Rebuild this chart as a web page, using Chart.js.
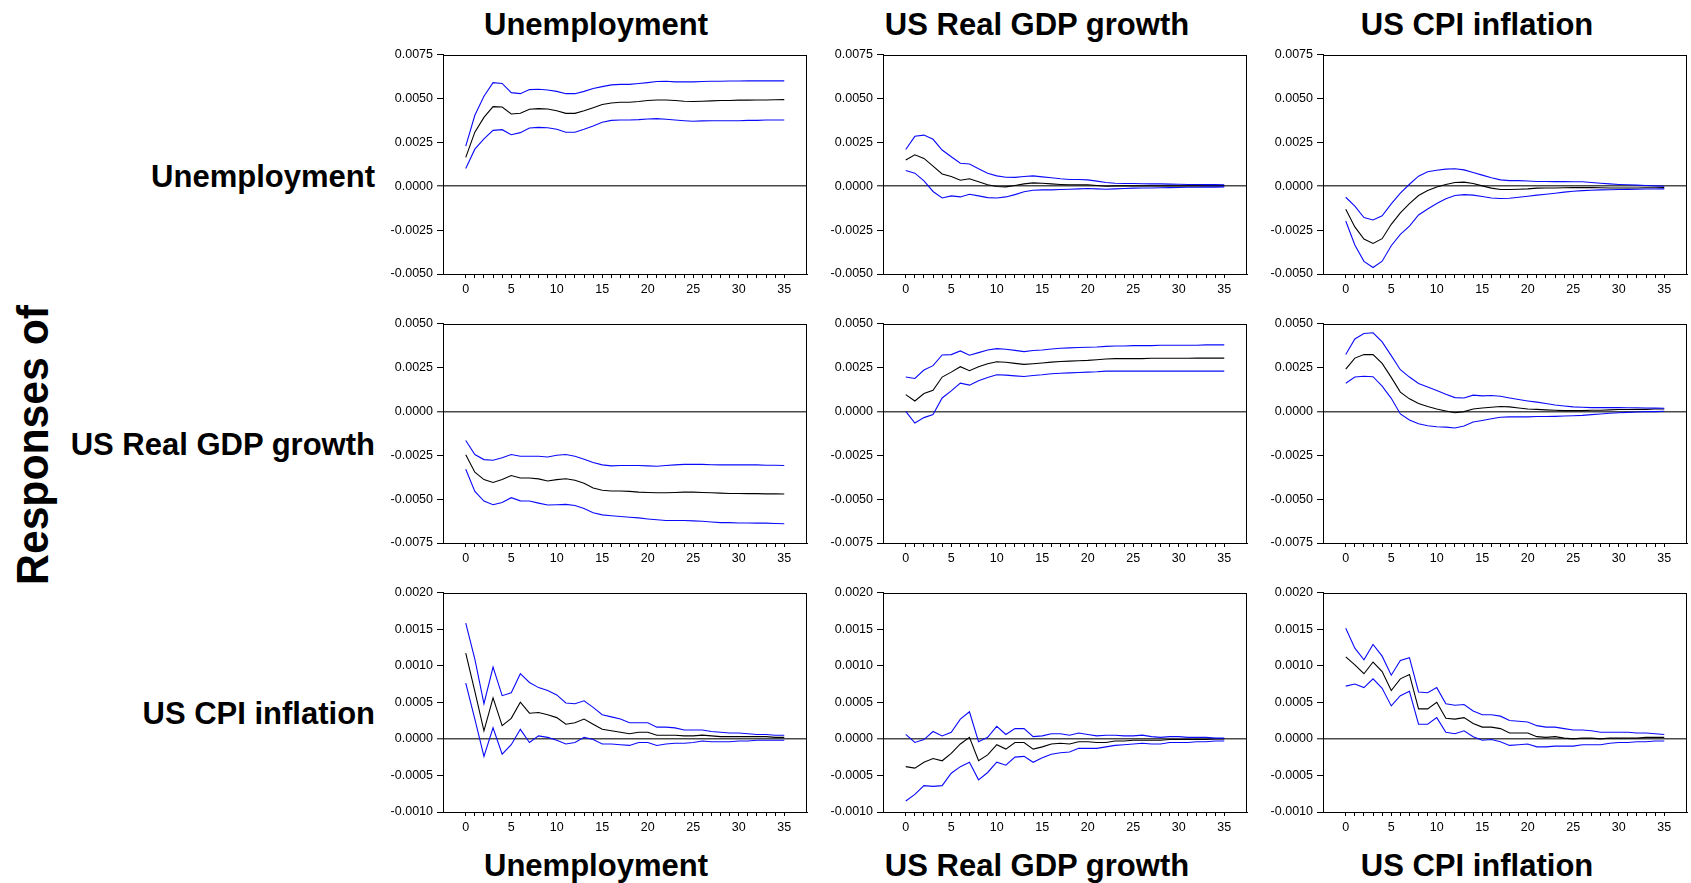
<!DOCTYPE html>
<html>
<head>
<meta charset="utf-8">
<script src="https://cdn.jsdelivr.net/npm/chart.js@4.4.1/dist/chart.umd.min.js"></script>
<style>
  html, body { margin:0; padding:0; background:#fff; }
  body { width:1691px; height:883px; position:relative; overflow:hidden; font-family:"Liberation Sans", Arial, sans-serif; }
  canvas { position:absolute; }
  .lbl { position:absolute; font-weight:bold; font-size:31px; line-height:31px; color:#000; white-space:nowrap; }
  .ctr { transform:translateX(-50%); }
  .row { left:0; width:375px; text-align:right; }
  #resp { position:absolute; left:33px; top:445px; font-weight:bold; font-size:44px; line-height:44px; white-space:nowrap;
          transform:translate(-50%,-50%) rotate(-90deg) scaleX(0.97); }
</style>
</head>
<body>
<div class="lbl ctr" style="left:596px; top:9px;">Unemployment</div>
<div class="lbl ctr" style="left:1037px; top:9px;">US Real GDP growth</div>
<div class="lbl ctr" style="left:1477px; top:9px;">US CPI inflation</div>
<div class="lbl row" style="top:161px;">Unemployment</div>
<div class="lbl row" style="top:429px;">US Real GDP growth</div>
<div class="lbl row" style="top:698px;">US CPI inflation</div>
<div class="lbl ctr" style="left:596px; top:850px;">Unemployment</div>
<div class="lbl ctr" style="left:1037px; top:850px;">US Real GDP growth</div>
<div class="lbl ctr" style="left:1477px; top:850px;">US CPI inflation</div>
<div id="resp">Responses of</div>

<script>
// ---- categories / tick labels ----
const horizons = [0,1,2,3,4,5,6,7,8,9,10,11,12,13,14,15,16,17,18,19,20,21,22,23,24,25,26,27,28,29,30,31,32,33,34,35];
const xTickLabels = [0,5,10,15,20,25,30,35];
const variables = ["Unemployment","US Real GDP growth","US CPI inflation"];
const yTicksRow1 = [-0.005,-0.0025,0,0.0025,0.005,0.0075];
const yTicksRow2 = [-0.0075,-0.005,-0.0025,0,0.0025,0.005];
const yTicksRow3 = [-0.001,-0.0005,0,0.0005,0.001,0.0015,0.002];

// ---- Responses of Unemployment ----
const unemp_unemp_hi  = [0.00228,0.00404,0.00512,0.0059,0.00585,0.00533,0.00527,0.0055,0.00552,0.00548,0.0054,0.00527,0.00527,0.0054,0.00556,0.00567,0.00577,0.0058,0.0058,0.00585,0.0059,0.00596,0.00598,0.00594,0.00594,0.00594,0.00596,0.00598,0.00598,0.00599,0.00599,0.006,0.006,0.006,0.006,0.006];
const unemp_unemp_mid = [0.00164,0.00308,0.00392,0.00453,0.00451,0.00411,0.00415,0.00438,0.00442,0.0044,0.0043,0.00415,0.00415,0.0043,0.00447,0.00465,0.00474,0.00478,0.00478,0.00482,0.00488,0.00491,0.00491,0.00488,0.00484,0.00482,0.00484,0.00486,0.00488,0.00488,0.0049,0.0049,0.00491,0.00491,0.00492,0.00493];
const unemp_unemp_lo  = [0.00101,0.00211,0.0027,0.00318,0.00322,0.00293,0.00305,0.00331,0.00335,0.00333,0.00324,0.00307,0.00307,0.00324,0.00343,0.00364,0.00375,0.00377,0.00377,0.00379,0.00383,0.00385,0.00381,0.00377,0.00373,0.0037,0.00372,0.00373,0.00373,0.00373,0.00373,0.00375,0.00375,0.00377,0.00377,0.00377];

const unemp_gdp_hi  = [0.00209,0.00284,0.00291,0.00267,0.00206,0.00168,0.00131,0.00126,0.00099,0.00074,0.00059,0.00051,0.0005,0.00055,0.00059,0.00053,0.00048,0.00042,0.00038,0.00038,0.00036,0.00029,0.00021,0.00017,0.00015,0.00015,0.00014,0.00013,0.00013,0.00012,0.00011,0.0001,0.0001,0.00009,0.00009,0.00008];
const unemp_gdp_mid = [0.00149,0.00179,0.00158,0.00114,0.0007,0.00055,0.00034,0.00042,0.00025,0.00008,-0.00002,-0.00004,0.00004,0.00013,0.00019,0.00017,0.00013,0.0001,0.00008,0.00008,0.00008,0.00004,0.0,0.00002,0.00002,0.00002,0.00002,0.00002,0.00002,0.00002,0.00002,0.00002,0.00002,0.00002,0.00002,0.00002];
const unemp_gdp_lo  = [0.00089,0.00074,0.0003,-0.0003,-0.00067,-0.00055,-0.00061,-0.00046,-0.00055,-0.00065,-0.00067,-0.00061,-0.00048,-0.00032,-0.00023,-0.00021,-0.00021,-0.00019,-0.00017,-0.00015,-0.00013,-0.00015,-0.00017,-0.00015,-0.00013,-0.00011,-0.0001,-0.0001,-0.00009,-0.00008,-0.00007,-0.00006,-0.00006,-0.00005,-0.00005,-0.00004];

const unemp_cpi_hi  = [-0.00063,-0.00114,-0.00179,-0.00192,-0.00169,-0.00101,-0.0004,0.00011,0.00057,0.00082,0.00091,0.00097,0.00099,0.00093,0.00078,0.00063,0.00048,0.00036,0.00032,0.00032,0.0003,0.00027,0.00027,0.00026,0.00026,0.00025,0.00025,0.00021,0.00017,0.00013,0.0001,0.00008,0.00006,0.00004,0.00002,0.0];
const unemp_cpi_mid = [-0.00131,-0.00232,-0.00301,-0.00326,-0.00299,-0.00217,-0.00152,-0.00099,-0.00053,-0.00025,-0.00004,0.0001,0.00021,0.00023,0.00015,0.00002,-0.00011,-0.00019,-0.00019,-0.00017,-0.00015,-0.00011,-0.0001,-0.0001,-0.00009,-0.00008,-0.00008,-0.00008,-0.00009,-0.0001,-0.0001,-0.0001,-0.0001,-0.00009,-0.00009,-0.00008];
const unemp_cpi_lo  = [-0.00198,-0.00335,-0.00428,-0.00463,-0.00427,-0.00339,-0.00274,-0.00227,-0.00164,-0.0013,-0.00099,-0.00072,-0.00053,-0.00048,-0.00051,-0.00059,-0.00067,-0.0007,-0.00069,-0.00063,-0.00057,-0.00051,-0.00046,-0.0004,-0.00034,-0.00029,-0.00025,-0.00023,-0.00021,-0.0002,-0.00019,-0.00018,-0.00017,-0.00016,-0.00016,-0.00015];

// ---- Responses of US Real GDP growth ----
const gdp_unemp_hi  = [-0.00166,-0.00246,-0.00275,-0.00279,-0.00265,-0.00246,-0.00256,-0.00256,-0.00256,-0.0026,-0.0025,-0.00246,-0.00256,-0.00273,-0.00292,-0.00305,-0.00311,-0.00309,-0.00309,-0.00309,-0.00311,-0.00313,-0.00309,-0.00305,-0.00302,-0.00302,-0.00302,-0.00304,-0.00305,-0.00305,-0.00304,-0.00305,-0.00305,-0.00307,-0.00307,-0.00309];
const gdp_unemp_mid = [-0.00248,-0.00347,-0.00389,-0.00405,-0.00389,-0.00366,-0.0038,-0.0038,-0.00385,-0.00397,-0.00389,-0.00384,-0.00393,-0.0041,-0.00437,-0.0045,-0.00454,-0.00454,-0.00456,-0.0046,-0.00462,-0.00464,-0.00464,-0.00462,-0.0046,-0.0046,-0.00462,-0.00464,-0.00466,-0.00468,-0.00468,-0.00469,-0.00469,-0.0047,-0.0047,-0.00471];
const gdp_unemp_lo  = [-0.0033,-0.00456,-0.00511,-0.00532,-0.00519,-0.00492,-0.0051,-0.00511,-0.00523,-0.00534,-0.00532,-0.0053,-0.00536,-0.00553,-0.00578,-0.0059,-0.00595,-0.00599,-0.00603,-0.00607,-0.00613,-0.00618,-0.00622,-0.00622,-0.00622,-0.00624,-0.00626,-0.0063,-0.00634,-0.00634,-0.00636,-0.00636,-0.00637,-0.00637,-0.00639,-0.0064];

const gdp_gdp_hi  = [0.00195,0.00187,0.00235,0.0026,0.00321,0.00323,0.00344,0.00319,0.00334,0.00349,0.00357,0.00353,0.00347,0.0034,0.00346,0.00349,0.00355,0.00359,0.00361,0.00363,0.00365,0.00366,0.0037,0.00372,0.00372,0.00374,0.00374,0.00374,0.00376,0.00376,0.00376,0.00376,0.00376,0.00378,0.00378,0.00378];
const gdp_gdp_mid = [0.00095,0.00059,0.00101,0.0012,0.00195,0.00223,0.00254,0.00231,0.00254,0.00271,0.00282,0.00279,0.00273,0.00267,0.00271,0.00275,0.0028,0.00284,0.00286,0.00288,0.0029,0.00294,0.00298,0.003,0.003,0.003,0.003,0.00302,0.00302,0.00302,0.00302,0.00302,0.00303,0.00303,0.00303,0.00303];
const gdp_gdp_lo  = [0.0,-0.00067,-0.00036,-0.00019,0.00076,0.00116,0.0016,0.00149,0.00174,0.00193,0.00208,0.00206,0.00202,0.00198,0.00204,0.00208,0.00214,0.00217,0.00219,0.00221,0.00223,0.00225,0.00229,0.00229,0.00229,0.00229,0.00229,0.00229,0.00229,0.00229,0.00229,0.00229,0.00229,0.00229,0.00229,0.00229];

const gdp_cpi_hi  = [0.00323,0.00412,0.00443,0.00447,0.00395,0.00317,0.00237,0.00195,0.00158,0.00139,0.00118,0.00097,0.00078,0.00076,0.00092,0.00088,0.0009,0.00086,0.00076,0.00067,0.00059,0.00052,0.00044,0.00036,0.0003,0.00025,0.00023,0.00021,0.00021,0.00021,0.00021,0.0002,0.0002,0.00019,0.00018,0.00017];
const gdp_cpi_mid = [0.0024,0.00303,0.00323,0.00323,0.00273,0.00193,0.00109,0.00071,0.00044,0.00027,0.00013,0.00002,-0.00008,-0.00002,0.00013,0.00019,0.00023,0.00027,0.00025,0.00019,0.00013,0.00011,0.00008,0.00006,0.00004,0.00004,0.00004,0.00006,0.00006,0.00008,0.0001,0.0001,0.00011,0.00011,0.00013,0.00013];
const gdp_cpi_lo  = [0.0016,0.00195,0.002,0.00197,0.00143,0.00074,-0.00015,-0.0005,-0.00071,-0.00082,-0.00088,-0.0009,-0.00095,-0.00084,-0.00061,-0.00052,-0.00042,-0.00034,-0.00032,-0.00032,-0.00032,-0.0003,-0.0003,-0.00029,-0.00027,-0.00025,-0.00023,-0.00019,-0.00015,-0.00011,-0.00008,-0.00006,-0.00004,-0.00002,-0.00002,0.0];

// ---- Responses of US CPI inflation ----
const cpi_unemp_hi  = [0.00158,0.00109,0.00048,0.00098,0.00059,0.00063,0.00089,0.00077,0.0007,0.00066,0.0006,0.00049,0.00048,0.00052,0.00043,0.00033,0.0003,0.00027,0.00022,0.00022,0.00022,0.00016,0.00016,0.00015,0.00012,0.00012,0.00012,0.0001,0.00009,0.00008,0.00008,0.00007,0.00006,0.00006,0.00005,0.00005];
const cpi_unemp_mid = [0.00117,0.00065,0.00011,0.00056,0.00018,0.00028,0.0005,0.00035,0.00036,0.00033,0.00029,0.0002,0.00022,0.00027,0.0002,0.00013,0.00011,0.00009,0.00007,0.00009,0.00009,0.00005,0.00005,0.00005,0.00004,0.00004,0.00005,0.00004,0.00003,0.00003,0.00003,0.00003,0.00003,0.00003,0.00002,0.00002];
const cpi_unemp_lo  = [0.00076,0.00027,-0.00024,0.00015,-0.00021,-0.00008,0.00013,-0.00005,0.00004,0.00002,-0.00002,-0.00007,-0.00005,0.00002,-0.00001,-0.00007,-0.00007,-0.00008,-0.00009,-0.00005,-0.00005,-0.00009,-0.00007,-0.00006,-0.00006,-0.00005,-0.00003,-0.00004,-0.00004,-0.00004,-0.00003,-0.00003,-0.00002,-0.00002,-0.00002,-0.00002];

const cpi_gdp_hi  = [0.00006,-0.00005,-0.00001,0.0001,0.00004,0.00009,0.00027,0.00037,-0.00004,0.00002,0.00017,0.00006,0.00014,0.00014,0.00003,0.00004,0.00007,0.00007,0.00005,0.00008,0.00006,0.00004,0.00005,0.00005,0.00004,0.00004,0.00005,0.00003,0.00002,0.00003,0.00003,0.00002,0.00002,0.00002,0.00001,0.00001];
const cpi_gdp_mid = [-0.00038,-0.0004,-0.00032,-0.00027,-0.0003,-0.0002,-0.00007,0.00002,-0.0003,-0.00022,-0.00008,-0.00014,-0.00005,-0.00005,-0.00014,-0.00011,-0.00007,-0.00006,-0.00007,-0.00004,-0.00004,-0.00005,-0.00005,-0.00003,-0.00003,-0.00002,-0.00002,-0.00002,-0.00002,-0.00001,-0.00001,-0.00001,-0.00001,-0.00001,0.0,0.0];
const cpi_gdp_lo  = [-0.00085,-0.00076,-0.00064,-0.00065,-0.00064,-0.00047,-0.00038,-0.00032,-0.00056,-0.00046,-0.00032,-0.00036,-0.00025,-0.00024,-0.00032,-0.00026,-0.00021,-0.00019,-0.00018,-0.00013,-0.00013,-0.00013,-0.00011,-0.00009,-0.00008,-0.00007,-0.00006,-0.00007,-0.00007,-0.00005,-0.00005,-0.00005,-0.00004,-0.00004,-0.00003,-0.00003];

const cpi_cpi_hi  = [0.00151,0.00124,0.00108,0.00129,0.00113,0.00087,0.00107,0.00111,0.00064,0.00063,0.0007,0.00048,0.00046,0.00047,0.00038,0.00033,0.00033,0.00031,0.00025,0.00024,0.00023,0.00018,0.00016,0.00016,0.00014,0.00012,0.00012,0.00011,0.00009,0.00009,0.00009,0.00009,0.00008,0.00008,0.00007,0.00006];
const cpi_cpi_mid = [0.00112,0.00101,0.00089,0.00105,0.00092,0.00066,0.00082,0.00088,0.00041,0.00041,0.0005,0.00028,0.00027,0.00029,0.00021,0.00016,0.00016,0.00014,0.00008,0.00008,0.00008,0.00003,0.00002,0.00003,0.00001,0.0,0.00001,0.00001,0.0,0.00001,0.00001,0.00001,0.00001,0.00002,0.00002,0.00002];
const cpi_cpi_lo  = [0.00072,0.00075,0.0007,0.00082,0.00069,0.00045,0.00059,0.00065,0.0002,0.0002,0.00029,0.00009,0.00007,0.00011,0.00003,-0.00002,-0.00001,-0.00004,-0.00009,-0.00008,-0.00007,-0.00011,-0.00011,-0.0001,-0.0001,-0.0001,-0.00008,-0.00008,-0.00008,-0.00006,-0.00005,-0.00005,-0.00004,-0.00004,-0.00003,-0.00003];

// ---- layout ----
const colLeft = [443, 883, 1323];
const rowTop = [54, 323, 592];
const PLOT_W = 364, PLOT_H = 219;
const Y_AXIS_W = 60, X_AXIS_H = 30, PAD_T = 8, PAD_R = 8;

const panels = [
  [ [unemp_unemp_lo, unemp_unemp_mid, unemp_unemp_hi], [unemp_gdp_lo, unemp_gdp_mid, unemp_gdp_hi], [unemp_cpi_lo, unemp_cpi_mid, unemp_cpi_hi] ],
  [ [gdp_unemp_lo, gdp_unemp_mid, gdp_unemp_hi], [gdp_gdp_lo, gdp_gdp_mid, gdp_gdp_hi], [gdp_cpi_lo, gdp_cpi_mid, gdp_cpi_hi] ],
  [ [cpi_unemp_lo, cpi_unemp_mid, cpi_unemp_hi], [cpi_gdp_lo, cpi_gdp_mid, cpi_gdp_hi], [cpi_cpi_lo, cpi_cpi_mid, cpi_cpi_hi] ]
];
const rowTicks = [yTicksRow1, yTicksRow2, yTicksRow3];

Chart.defaults.font.family = '"Liberation Sans", Arial, sans-serif';
Chart.defaults.color = '#000';

const boxPlugin = {
  id: 'box',
  afterDraw(chart) {
    const a = chart.chartArea, c = chart.ctx;
    c.save();
    c.strokeStyle = '#000';
    c.lineWidth = 1;
    c.strokeRect(Math.round(a.left) + 0.5, Math.round(a.top) + 0.5, Math.round(a.right - a.left) - 1, Math.round(a.bottom - a.top) - 1);
    c.restore();
  }
};

const BLUE = 'rgb(10,10,250)';
function pts(arr) { return horizons.map((h, i) => ({ x: h, y: arr[i] })); }

function makeChart(r, c, W, H) {
  const ticks = rowTicks[r];
  const cv = document.createElement('canvas');
  cv.width = W; cv.height = H;
  cv.style.width = W + 'px'; cv.style.height = H + 'px';
  cv.style.left = '0px'; cv.style.top = '0px';
  document.body.appendChild(cv);
  const [lo, mid, hi] = panels[r][c];
  const chart = new Chart(cv, {
    type: 'line',
    data: {
      datasets: [
        { data: pts(hi), borderColor: BLUE, borderWidth: 1.1, pointRadius: 0, tension: 0 },
        { data: pts(lo), borderColor: BLUE, borderWidth: 1.1, pointRadius: 0, tension: 0 },
        { data: pts(mid), borderColor: '#000', borderWidth: 1.1, pointRadius: 0, tension: 0 }
      ]
    },
    options: {
      responsive: false,
      maintainAspectRatio: false,
      animation: false,
      devicePixelRatio: 1,
      layout: { padding: { top: PAD_T, right: PAD_R, left: 0, bottom: 0 } },
      plugins: { legend: { display: false }, tooltip: { enabled: false } },
      scales: {
        x: {
          type: 'linear', min: -2.5, max: 37.5,
          afterBuildTicks: s => { s.ticks = horizons.map(v => ({ value: v })); },
          afterFit: s => { s.height = X_AXIS_H; },
          ticks: { autoSkip: false, maxRotation: 0, padding: 4, font: { size: 12.5 },
                   callback: v => xTickLabels.includes(v) ? String(v) : '' },
          grid: { drawOnChartArea: false, drawTicks: true, tickLength: 4, tickColor: '#000', tickWidth: 1 },
          border: { display: true, color: '#000', width: 1 }
        },
        y: {
          min: ticks[0], max: ticks[ticks.length - 1],
          afterBuildTicks: s => { s.ticks = ticks.map(v => ({ value: v })); },
          afterFit: s => { s.width = Y_AXIS_W; },
          ticks: { autoSkip: false, padding: 4, font: { size: 12.5 }, callback: v => v.toFixed(4) },
          grid: {
            drawOnChartArea: true, drawTicks: true, tickLength: 6, tickColor: '#000', tickWidth: 1,
            color: ctx => (ctx.tick && ctx.tick.value === 0) ? '#4a4a4a' : 'rgba(0,0,0,0)',
            lineWidth: ctx => (ctx.tick && ctx.tick.value === 0) ? 1.6 : 1
          },
          border: { display: true, color: '#000', width: 1 }
        }
      }
    },
    plugins: [boxPlugin]
  });
  return { cv, chart };
}

for (let r = 0; r < 3; r++) {
  for (let c = 0; c < 3; c++) {
    let W = Y_AXIS_W + PLOT_W + PAD_R, H = PAD_T + PLOT_H + X_AXIS_H;
    let o = makeChart(r, c, W, H);
    for (let k = 0; k < 3; k++) {
      const a = o.chart.chartArea;
      const dw = PLOT_W - (a.right - a.left), dh = PLOT_H - (a.bottom - a.top);
      if (Math.abs(dw) < 0.5 && Math.abs(dh) < 0.5) break;
      W += Math.round(dw); H += Math.round(dh);
      o.chart.destroy(); o.cv.remove();
      o = makeChart(r, c, W, H);
    }
    const a = o.chart.chartArea;
    o.cv.style.left = (colLeft[c] - a.left) + 'px';
    o.cv.style.top = (rowTop[r] - a.top) + 'px';
  }
}
</script>
</body>
</html>
